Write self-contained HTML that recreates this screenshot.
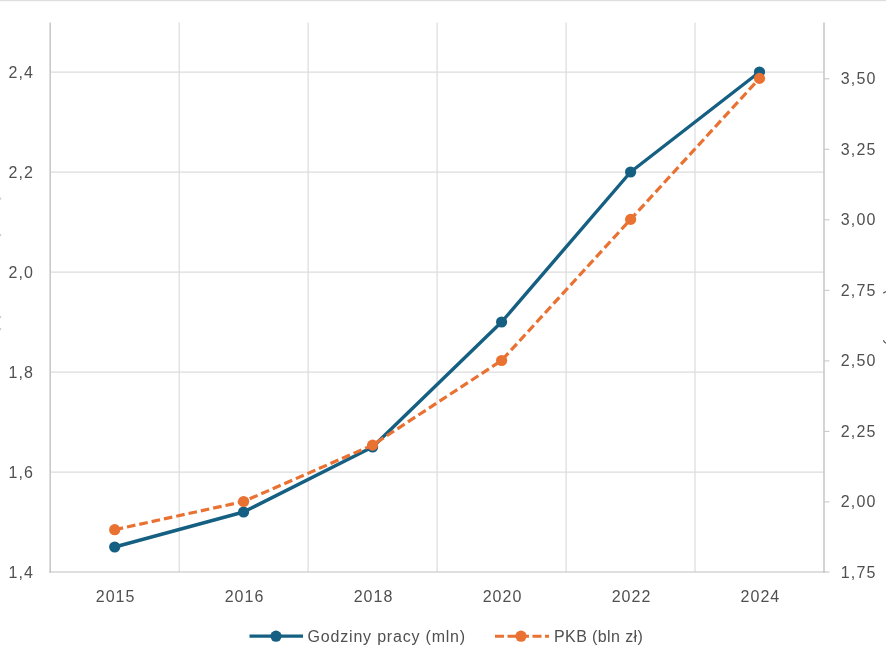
<!DOCTYPE html>
<html lang="pl"><head><meta charset="utf-8"><title>Wykres</title>
<style>
html,body{margin:0;padding:0;background:#fff;}
body{width:886px;height:654px;overflow:hidden;}
svg{display:block;will-change:transform;}
text{font-family:'Liberation Sans', Arial, sans-serif;font-size:16px;fill:#505050;letter-spacing:1px;}
</style></head><body>
<svg width="886" height="654" viewBox="0 0 886 654">
<rect x="0" y="0" width="886" height="654" fill="#ffffff"/>
<rect x="0" y="0" width="886" height="1.2" fill="#dedede"/>

<g stroke="#dcdcdc" stroke-width="1.2" fill="none">
<line x1="179.2" y1="22.5" x2="179.2" y2="572"/>
<line x1="308.1" y1="22.5" x2="308.1" y2="572"/>
<line x1="437.1" y1="22.5" x2="437.1" y2="572"/>
<line x1="566.1" y1="22.5" x2="566.1" y2="572"/>
<line x1="695.0" y1="22.5" x2="695.0" y2="572"/>
<line x1="50.2" y1="472.2" x2="824.0" y2="472.2"/>
<line x1="50.2" y1="372.2" x2="824.0" y2="372.2"/>
<line x1="50.2" y1="272.2" x2="824.0" y2="272.2"/>
<line x1="50.2" y1="172.2" x2="824.0" y2="172.2"/>
<line x1="50.2" y1="72.2" x2="824.0" y2="72.2"/>
</g>
<g stroke="#c9c9c9" stroke-width="1.6" fill="none">
<line x1="50.2" y1="22.5" x2="50.2" y2="572.8"/>
<line x1="824.0" y1="22.5" x2="824.0" y2="572.8"/>
<line x1="49.400000000000006" y1="572" x2="829.4" y2="572" stroke-width="1.2" stroke="#c0c0c0"/>
<line x1="824.0" y1="501.9" x2="829.4" y2="501.9" stroke-width="1.1"/>
<line x1="824.0" y1="431.4" x2="829.4" y2="431.4" stroke-width="1.1"/>
<line x1="824.0" y1="360.9" x2="829.4" y2="360.9" stroke-width="1.1"/>
<line x1="824.0" y1="290.3" x2="829.4" y2="290.3" stroke-width="1.1"/>
<line x1="824.0" y1="219.8" x2="829.4" y2="219.8" stroke-width="1.1"/>
<line x1="824.0" y1="149.3" x2="829.4" y2="149.3" stroke-width="1.1"/>
<line x1="824.0" y1="78.8" x2="829.4" y2="78.8" stroke-width="1.1"/>
</g>
<g text-anchor="start">
<text x="8.6" y="577.8">1,4</text>
<text x="8.6" y="477.8">1,6</text>
<text x="8.6" y="377.8">1,8</text>
<text x="8.6" y="277.8">2,0</text>
<text x="8.6" y="177.8">2,2</text>
<text x="8.6" y="77.8">2,4</text>
<text x="840.8" y="577.8" style="letter-spacing:1.15px">1,75</text>
<text x="840.8" y="507.3" style="letter-spacing:1.15px">2,00</text>
<text x="840.8" y="436.8" style="letter-spacing:1.15px">2,25</text>
<text x="840.8" y="366.3" style="letter-spacing:1.15px">2,50</text>
<text x="840.8" y="295.8" style="letter-spacing:1.15px">2,75</text>
<text x="840.8" y="225.2" style="letter-spacing:1.15px">3,00</text>
<text x="840.8" y="154.7" style="letter-spacing:1.15px">3,25</text>
<text x="840.8" y="84.2" style="letter-spacing:1.15px">3,50</text>
</g>
<g text-anchor="middle">
<text x="115.6" y="601.6">2015</text>
<text x="244.5" y="601.6">2016</text>
<text x="373.5" y="601.6">2018</text>
<text x="502.5" y="601.6">2020</text>
<text x="631.5" y="601.6">2022</text>
<text x="760.4" y="601.6">2024</text>
</g>
<polyline points="114.7,547.0 243.6,512.0 372.6,447.0 501.6,322.0 630.6,172.0 759.5,72.0" fill="none" stroke="#156082" stroke-width="3.4" stroke-linejoin="round" stroke-linecap="round"/>
<circle cx="114.7" cy="547.0" r="5.6" fill="#156082"/>
<circle cx="243.6" cy="512.0" r="5.6" fill="#156082"/>
<circle cx="372.6" cy="447.0" r="5.6" fill="#156082"/>
<circle cx="501.6" cy="322.0" r="5.6" fill="#156082"/>
<circle cx="630.6" cy="172.0" r="5.6" fill="#156082"/>
<circle cx="759.5" cy="72.0" r="5.6" fill="#156082"/>
<polyline points="114.7,529.7 243.6,501.5 372.6,445.1 501.6,360.5 630.6,219.4 759.5,78.4" fill="none" stroke="#e97132" stroke-width="3.2" stroke-dasharray="8.6 4" stroke-linejoin="round"/>
<circle cx="114.7" cy="529.7" r="5.6" fill="#e97132"/>
<circle cx="243.6" cy="501.5" r="5.6" fill="#e97132"/>
<circle cx="372.6" cy="445.1" r="5.6" fill="#e97132"/>
<circle cx="501.6" cy="360.5" r="5.6" fill="#e97132"/>
<circle cx="630.6" cy="219.4" r="5.6" fill="#e97132"/>
<circle cx="759.5" cy="78.4" r="5.6" fill="#e97132"/>
<g fill="#cfcfcf"><rect x="0" y="197.5" width="1.2" height="2.2"/><rect x="0" y="234" width="1.2" height="2.2"/><rect x="0" y="316" width="1.2" height="2.2"/><rect x="0" y="328" width="1.2" height="2.2"/></g>
<g stroke="#555" stroke-width="1.3" fill="none" stroke-linecap="round"><path d="M883.6 292.8 L886.5 291.4"/><path d="M883.6 340.8 Q884.8 343.2 887 343.4"/></g>
<line x1="249.5" y1="636.2" x2="303" y2="636.2" stroke="#156082" stroke-width="3.3"/>
<circle cx="276" cy="636.2" r="5.6" fill="#156082"/>
<text x="307.6" y="641.5" style="letter-spacing:0.8px">Godziny pracy (mln)</text>
<line x1="495" y1="636.2" x2="549" y2="636.2" stroke="#e97132" stroke-width="3.1" stroke-dasharray="9 3.5"/>
<circle cx="521" cy="636.2" r="5.6" fill="#e97132"/>
<text x="554" y="641.5" style="letter-spacing:0.4px">PKB (bln zł)</text>
</svg></body></html>
